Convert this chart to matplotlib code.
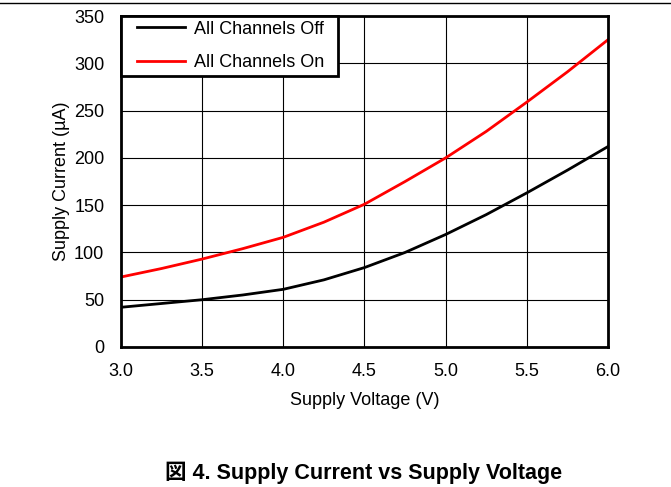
import matplotlib
matplotlib.use("Agg")
import numpy as np
import matplotlib.pyplot as plt
from matplotlib.lines import Line2D
from matplotlib.legend_handler import HandlerLine2D

plt.rcParams['font.family'] = ['Liberation Sans', 'Noto Sans CJK JP', 'DejaVu Sans']

voltage = [3.0, 3.25, 3.5, 3.75, 4.0, 4.25, 4.5, 4.75, 5.0, 5.25, 5.5, 5.75, 6.0]
current_off = [42, 46, 50, 55, 61, 71, 84, 100, 119, 140, 163, 187, 212]
current_on = [74, 83, 93, 104, 116, 132, 151, 175, 200, 228, 259, 291, 325]

xticks = [3.0, 3.5, 4.0, 4.5, 5.0, 5.5, 6.0]
yticks = [0, 50, 100, 150, 200, 250, 300, 350]


class PadHandler(HandlerLine2D):
    def __init__(self, side_pad=0.6, **kw):
        super().__init__(**kw)
        self.side_pad = side_pad

    def create_artists(self, legend, orig_handle, xdescent, ydescent,
                       width, height, fontsize, trans):
        arts = super().create_artists(legend, orig_handle, xdescent, ydescent,
                                      width, height, fontsize, trans)
        pad = self.side_pad * fontsize
        for a in arts:
            xd = np.asarray(a.get_xdata())
            if len(xd) >= 2:
                a.set_xdata(np.linspace(-xdescent + pad, -xdescent + width - pad, len(xd)))
        return arts


fig = plt.figure(figsize=(6.71, 4.87), dpi=100)
ax = fig.add_axes([0.1803, 0.2875, 0.7258, 0.6795])

l1, = ax.plot(voltage, current_off, color='black', lw=2, label='All Channels Off')
l2, = ax.plot(voltage, current_on, color='#ff0000', lw=2, label='All Channels On')

ax.set_xlim(3.0, 6.0)
ax.set_ylim(0, 350)
ax.set_xticks(xticks)
ax.set_xticklabels([f"{t:.1f}" for t in xticks])
ax.set_yticks(yticks)
ax.grid(True, color='black', lw=0.8)
ax.set_axisbelow(True)
ax.tick_params(axis='both', length=0, labelsize=13)
ax.tick_params(axis='x', pad=11.5)
ax.tick_params(axis='y', pad=12)
for s in ax.spines.values():
    s.set_linewidth(2)

ax.set_xlabel('Supply Voltage (V)', fontsize=13, labelpad=9)
ax.set_ylabel('Supply Current (µA)', fontsize=13, labelpad=3)

hm = {l1: PadHandler(0.62), l2: PadHandler(0.62)}
leg = ax.legend(loc='upper left', fontsize=13, fancybox=False, framealpha=1,
                edgecolor='black', bbox_to_anchor=(0, 0, 0.4456, 1.0),
                mode='expand', borderaxespad=0, handlelength=3.9,
                handletextpad=-0.12, borderpad=0.25, labelspacing=0.92,
                handler_map=hm)
leg.get_frame().set_linewidth(2)

fig.add_artist(Line2D([0, 1], [1 - 3/487, 1 - 3/487], color='black', lw=1))
fig.text(0.5417, 1 - 473/487, '図 4. Supply Current vs Supply Voltage',
         ha='center', va='center', fontsize=15.5, fontweight='bold')

fig.savefig('out.png', dpi=100)
